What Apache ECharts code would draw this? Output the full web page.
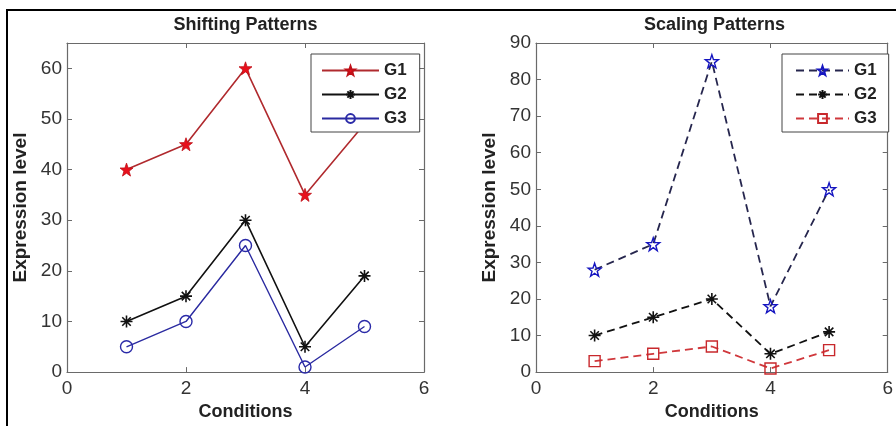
<!DOCTYPE html>
<html>
<head>
<meta charset="utf-8">
<script src="https://cdn.jsdelivr.net/npm/echarts@6/dist/echarts.min.js"></script>
<style>
html,body{margin:0;padding:0;background:#fff;}
#wrap{position:relative;width:896px;height:426px;overflow:hidden;background:#fff;}
#c1{position:absolute;left:0;top:0;width:448px;height:426px;}
#c2{position:absolute;left:448px;top:0;width:448px;height:426px;}
#frame{position:absolute;left:6px;top:9px;width:900px;height:430px;border-left:2px solid #000;border-top:2px solid #000;pointer-events:none;}
</style>
</head>
<body>
<div id="wrap"><div id="c1"></div><div id="c2"></div><div id="frame"></div></div>
<script>
// ---- data ----
const conditions = [1, 2, 3, 4, 5];
const seriesNames = ['G1', 'G2', 'G3'];
const shiftG1 = [40, 45, 60, 35, 49];
const shiftG2 = [10, 15, 30, 5, 19];
const shiftG3 = [5, 10, 25, 1, 9];
const scaleG1 = [28, 35, 85, 18, 50];
const scaleG2 = [10, 15, 20, 5, 11];
const scaleG3 = [3, 5, 7, 1, 6];
const xTicks = [0, 2, 4, 6];
const shiftYTicks = [0, 10, 20, 30, 40, 50, 60];
const scaleYTicks = [0, 10, 20, 30, 40, 50, 60, 70, 80, 90];
const titles = ['Shifting Patterns', 'Scaling Patterns'];
const xName = 'Conditions';
const yName = 'Expression level';

// ---- symbols ----
const STAR = 'path://M0,-10L2.35,-3.24L9.51,-3.09L3.80,1.24L5.88,8.09L0,4L-5.88,8.09L-3.80,1.24L-9.51,-3.09L-2.35,-3.24Z';
const ASTER = 'path://M0,-10L0,10M-10,0L10,0M-7.07,-7.07L7.07,7.07M-7.07,7.07L7.07,-7.07';
const FONT = '"Liberation Sans", Arial, sans-serif';

function pairs(vals){ return conditions.map((c,i)=>[c, vals[i]]); }

function makeOption(cfg){
  const axisCol = '#6a6a6a';
  const gridW = 357, gridH = 333;
  const xBase = {
    type:'value', min:0, max:6, interval:2, gridIndex:0,
    axisLine:{show:true, onZero:false, lineStyle:{color:axisCol, width:1.2}},
    axisTick:{show:true, inside:true, length:5, lineStyle:{color:axisCol}},
    splitLine:{show:false},
    axisLabel:{show:false}
  };
  const yBase = {
    type:'value', min:0, max:cfg.ymax, gridIndex:0,
    axisLine:{show:true, onZero:false, lineStyle:{color:axisCol, width:1.2}},
    axisTick:{show:true, inside:true, length:5, customValues:cfg.yTicks, lineStyle:{color:axisCol}},
    splitLine:{show:false},
    axisLabel:{show:false, customValues:cfg.yTicks}
  };
  return {
    animation:false,
    textStyle:{fontFamily:FONT},
    grid:[{left:cfg.gridLeft, top:43, width:gridW, height:gridH}],
    graphic:[{type:'text', x:cfg.gridLeft+gridW/2, y:25,
      style:{text:cfg.title, font:'bold 18px '+FONT, fill:'#222', align:'center', verticalAlign:'middle'}}],
    legend:{
      orient:'vertical', left:cfg.legLeft, top:54, align:'left',
      backgroundColor:'#fff', borderColor:'#444', borderWidth:1,
      padding:[8,cfg.legPadR,5,cfg.legPadL], itemGap:7, itemWidth:cfg.legItemW, itemHeight:11,
      textStyle:{fontFamily:FONT, fontSize:17, fontWeight:'bold', color:'#222'},
      data:seriesNames
    },
    xAxis:[
      Object.assign({}, xBase, {position:'bottom',
        axisLabel:{show:true, margin:7, fontSize:19, color:'#333', fontFamily:FONT, customValues:xTicks},
        name:xName, nameLocation:'middle', nameGap:30,
        nameTextStyle:{fontSize:18, fontWeight:'bold', color:'#222', fontFamily:FONT}}),
      Object.assign({}, xBase, {position:'top'})
    ],
    yAxis:[
      Object.assign({}, yBase, {position:'left',
        axisLabel:{show:true, margin:5, fontSize:19, color:'#333', fontFamily:FONT, customValues:cfg.yTicks},
        name:yName, nameLocation:'middle', nameGap:cfg.yNameGap, nameRotate:90,
        nameTextStyle:{fontSize:19, fontWeight:'bold', color:'#222', fontFamily:FONT}}),
      Object.assign({}, yBase, {position:'right'})
    ],
    series:cfg.series
  };
}

const shiftSeries = [
  {name:'G1', type:'line', data:pairs(shiftG1), symbol:STAR, symbolSize:13,
   lineStyle:{color:'#b02a2e', width:1.6}, itemStyle:{color:'#e8101c', borderColor:'#c01018', borderWidth:0.8}},
  {name:'G2', type:'line', data:pairs(shiftG2), symbol:ASTER, symbolSize:12,
   lineStyle:{color:'#111', width:1.6}, itemStyle:{color:'#111', borderColor:'#111', borderWidth:1.6}},
  {name:'G3', type:'line', data:pairs(shiftG3), symbol:'circle', symbolSize:12,
   lineStyle:{color:'#2a2aa0', width:1.4}, itemStyle:{color:'rgba(255,255,255,0)', borderColor:'#2a2aa8', borderWidth:1.4}}
];
const scaleSeries = [
  {name:'G1', type:'line', data:pairs(scaleG1), symbol:STAR, symbolSize:13,
   lineStyle:{color:'#26264e', width:1.8, type:[8,5]}, itemStyle:{color:'rgba(255,255,255,0)', borderColor:'#1515c0', borderWidth:1.4}},
  {name:'G2', type:'line', data:pairs(scaleG2), symbol:ASTER, symbolSize:12,
   lineStyle:{color:'#111', width:1.8, type:[8,5]}, itemStyle:{color:'#111', borderColor:'#111', borderWidth:1.6}},
  {name:'G3', type:'line', data:pairs(scaleG3), symbol:'rect', symbolSize:11,
   lineStyle:{color:'#d0383c', width:1.8, type:[8,5]}, itemStyle:{color:'rgba(255,255,255,0)', borderColor:'#c8282c', borderWidth:1.4}}
];

const c1 = echarts.init(document.getElementById('c1'), null, {renderer:'canvas'});
c1.setOption(makeOption({title:titles[0], gridLeft:67, ymax:65, yTicks:shiftYTicks,
  legLeft:311, legPadL:10, legPadR:13, legItemW:57, yNameGap:36, series:shiftSeries}));

const c2 = echarts.init(document.getElementById('c2'), null, {renderer:'canvas'});
c2.setOption(makeOption({title:titles[1], gridLeft:88, ymax:90, yTicks:scaleYTicks,
  legLeft:334, legPadL:13, legPadR:12, legItemW:53, yNameGap:35, series:scaleSeries}));
</script>
</body>
</html>
